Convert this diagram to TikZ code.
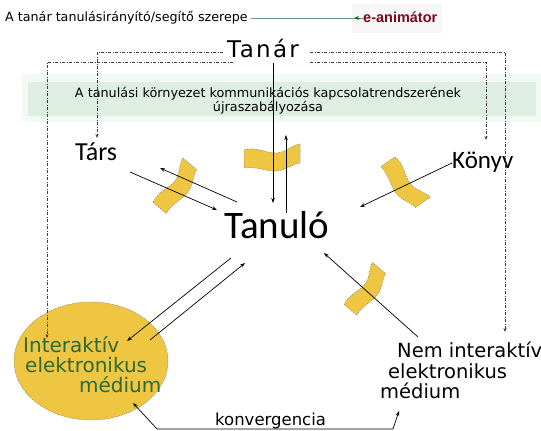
\documentclass[tikz,border=0pt]{standalone}
\usepackage{fontspec}
\setmainfont{DejaVu Sans}
\newfontfamily\calib{Carlito}
\newfontfamily\arialf{Liberation Sans}
\newfontfamily\tanarfont[LetterSpace=10]{DejaVu Sans}
\usetikzlibrary{arrows.meta,shapes.geometric}
\definecolor{gold}{RGB}{238,198,66}
\definecolor{golddash}{RGB}{150,140,110}
\definecolor{bandg}{RGB}{222,238,226}
\definecolor{bandl}{RGB}{243,249,245}
\definecolor{dgreen}{RGB}{20,100,50}
\definecolor{dred}{RGB}{125,10,30}
\definecolor{txtgreen}{RGB}{45,105,50}
\definecolor{dashc}{RGB}{60,60,60}
\tikzset{
  arr/.style={draw=black, line width=0.7pt, -{Stealth[length=5pt,width=3.5pt]}},
  dd/.style={draw=dashc, line width=0.7pt, dash pattern=on 3pt off 1.5pt on 1pt off 1.5pt, -{Stealth[length=4pt,width=3pt]}},
  patchstyle/.style={fill=gold, draw=golddash, line width=0.5pt, dash pattern=on 1.5pt off 1pt},
  patch/.pic={\path[patchstyle] (-28,-8) .. controls (-15,-12) and (-5,-4) .. (5,-5) .. controls (15,-6) and (22,-14) .. (28,-14) -- (28,5) .. controls (22,5) and (15,12) .. (5,13) .. controls (-5,14) and (-15,8) .. (-28,10) -- cycle;},
  lbl/.style={inner sep=0pt, anchor=base west},
}
\begin{document}
\begin{tikzpicture}[x=1pt,y=-1pt]
\useasboundingbox (0,0) rectangle (541,431);
\fill[white] (0,0) rectangle (541,431);
% band
\fill[bandl] (22,74) rectangle (541,122);
\fill[bandg] (28,82) rectangle (536,116);
% e-animator background
\fill[black!3] (352,4) rectangle (442,33);
% title
\node[lbl, font=\fontsize{12.7}{15}\selectfont] (title) at (5,21) {A tanár tanulásirányító/segítő szerepe};
\node[lbl, font=\arialf\bfseries\fontsize{14.5}{16}\selectfont, text=dred] (eanim) at (363,23) {e-animátor};
\draw[dgreen, line width=0.9pt, -{Stealth[length=5pt,width=4pt]}] (title.east |- 0,18) ++(3,0) -- (eanim.west |- 0,18) -- ++(-9,0);
% Tanar
\node[lbl, font=\tanarfont\fontsize{23}{25}\selectfont] (tanar) at (227,57) {Tanár};
% band text
\node[align=center, font=\fontsize{12.8}{14}\selectfont, inner sep=0pt] (band) at (268,101) {A tanulási környezet kommunikációs kapcsolatrendszerének\\újraszabályozása};
% patches
\pic[rotate=50, scale=0.95] at (176,187) {patch};
\pic[rotate=0] at (272,158) {patch};
\pic[rotate=-55, scale=0.95] at (404,183) {patch};
\pic[rotate=50, scale=0.9] at (366,290) {patch};
% main labels
\node[lbl, font=\calib\fontsize{26}{28}\selectfont] (tars) at (75,160) {Társ};
\node[lbl, font=\calib\fontsize{25}{27}\selectfont] (konyv) at (452,168) {Könyv};
\node[lbl, font=\calib\fontsize{39}{42}\selectfont] (tanulo) at (224,238) {Tanuló};
% ellipse
\node[ellipse, fill=gold, draw=golddash, line width=0.5pt, dash pattern=on 1.5pt off 1pt, minimum width=154pt, minimum height=118pt, inner sep=0pt] (iem) at (91,361) {};
\node[lbl, text=txtgreen, font=\fontsize{20}{22}\selectfont] (iem1) at (23,352) {Interaktív};
\node[lbl, text=txtgreen, font=\fontsize{20}{22}\selectfont] (iem2) at (25,372) {elektronikus};
\node[lbl, text=txtgreen, font=\fontsize{20}{22}\selectfont] (iem3) at (79,392) {médium};
% non-interactive
\node[lbl, font=\fontsize{19.5}{22}\selectfont] (nem1) at (397,357) {Nem interaktív};
\node[lbl, font=\fontsize{19.5}{22}\selectfont] (nem2) at (388,378) {elektronikus};
\node[lbl, font=\fontsize{19.5}{22}\selectfont] (nem3) at (380,398) {médium};
\node[lbl, font=\fontsize{16.5}{18}\selectfont] (konv) at (215,425) {konvergencia};
% coordinates
\coordinate (tl1) at (223,52); \coordinate (tl2) at (233,62);
\coordinate (tr1) at (310,52); \coordinate (tr2) at (310,62);
\coordinate (tarsT) at (97,138);
\coordinate (iemT) at (47,338);
\coordinate (konyvT) at (486,140);
\coordinate (nemT) at (505,332);
% dashed connectors from Tanar
\draw[dd] (tl1) -- (97,52) -- (tarsT);
\draw[dd] (tl2) -- (47,62) -- (iemT);
\draw[dd] (tr1) -- (505,52) -- (nemT);
\draw[dd] (tr2) -- (486,62) -- (konyvT);
% Tanar <-> Tanulo
\coordinate (tanarS) at (273,63);
\coordinate (tanuloN1) at (273,203);
\coordinate (tanuloN2) at (286,213);
\coordinate (upT) at (286,135);
\draw[arr] (tanarS) -- (tanuloN1);
\draw[arr] (tanuloN2) -- (upT);
% Tars <-> Tanulo
\coordinate (a1s) at (130,172); \coordinate (a1e) at (217,210);
\coordinate (a2s) at (237,202); \coordinate (a2e) at (160,168);
\draw[arr] (a1s) -- (a1e);
\draw[arr] (a2s) -- (a2e);
% Konyv -> Tanulo
\coordinate (k1) at (452,163); \coordinate (k2) at (360,207);
\draw[arr] (k1) -- (k2);
% Nem -> Tanulo
\coordinate (n1) at (418,337); \coordinate (n2) at (324,253);
\draw[arr] (n1) -- (n2);
% Ellipse <-> Tanulo
\coordinate (e1s) at (231,258); \coordinate (e1e) at (127,341);
\coordinate (e2s) at (150,340); \coordinate (e2e) at (245,263);
\draw[arr] (e1s) -- (e1e);
\draw[arr] (e2s) -- (e2e);
% konvergencia
\coordinate (cv1) at (133,403); \coordinate (cv2) at (399,411);
\draw[line width=0.7pt, {Stealth[length=5pt,width=3.5pt]}-{Stealth[length=5pt,width=3.5pt]}] (cv1) -- (157,429) -- (393,429) -- (cv2);
\end{tikzpicture}
\end{document}
